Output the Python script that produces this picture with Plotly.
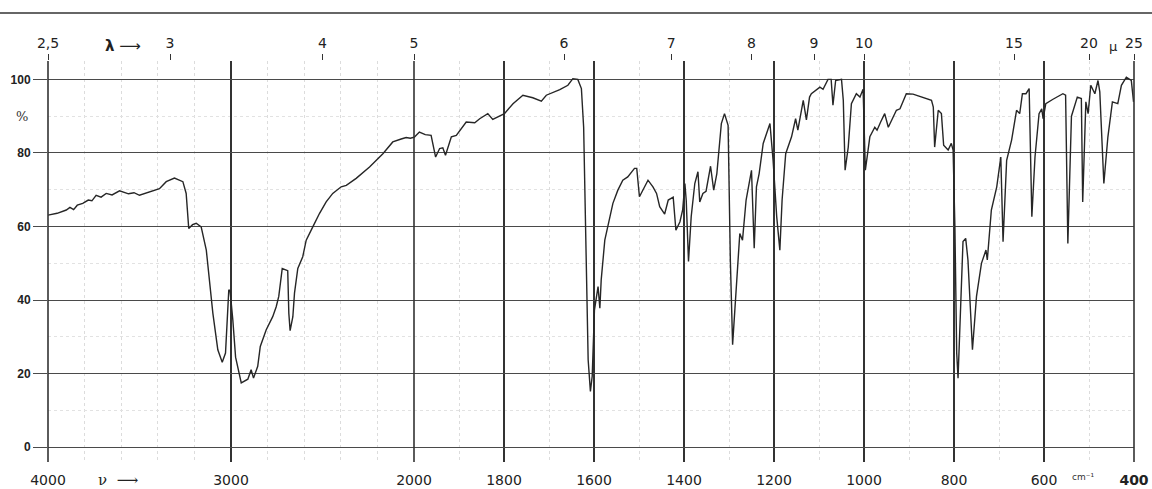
import plotly.graph_objects as go
import numpy as np

# ---- data (wavenumber in cm-1, transmittance in %) ----
wavenumber = [
    4000, 3950, 3900, 3880, 3860, 3840, 3810, 3780, 3760, 3737, 3710, 3682, 3650, 3609,
    3560, 3530, 3500, 3450, 3420, 3391, 3354, 3309, 3263, 3245, 3231, 3210, 3190, 3163,
    3135, 3099, 3072, 3048, 3030, 3012, 3005, 2990, 2975, 2950, 2944, 2908, 2890, 2877,
    2854, 2840, 2808, 2772, 2753, 2739, 2720, 2690, 2684, 2677, 2662, 2653, 2635, 2608,
    2589, 2553, 2516, 2480, 2444, 2398, 2370, 2316, 2243, 2170, 2116, 2070, 2043, 2020,
    1999, 1988, 1975, 1962, 1952, 1943, 1936, 1930, 1917, 1906, 1884, 1865, 1854, 1836,
    1825, 1799, 1780, 1758, 1736, 1717, 1706, 1676, 1658, 1647, 1636, 1628, 1623, 1617,
    1613, 1608, 1604, 1599, 1591, 1587, 1584, 1576, 1569, 1558, 1547, 1536, 1525, 1510,
    1505, 1499, 1480, 1469, 1461, 1454, 1443, 1435, 1424, 1418, 1409, 1403, 1398, 1395,
    1390, 1384, 1376, 1369, 1365, 1358, 1351, 1341, 1334, 1327, 1317, 1310, 1302, 1297,
    1292, 1285, 1276, 1270, 1262, 1250, 1244, 1239, 1233, 1224, 1209, 1202, 1194, 1187,
    1182, 1174, 1161, 1152, 1147, 1135, 1128, 1121, 1117, 1098, 1091, 1080, 1073, 1069,
    1063, 1050, 1046, 1042, 1035, 1028, 1017, 1009, 1002, 997, 987, 976, 971, 963,
    954, 946, 928, 920, 906, 891, 869, 850, 846, 843, 835, 828, 823, 813,
    806, 802, 798, 794, 791, 785, 780, 774, 769, 759, 750, 739, 729, 726,
    717, 705, 696, 691, 683, 672, 661, 654, 648, 640, 633, 627, 620, 611,
    605, 602, 596, 580, 558, 552, 547, 539, 526, 517, 514, 507, 502, 496,
    487, 480, 476, 467, 458, 448, 436, 428, 417, 406, 401,
]
transmittance = [
    63.1, 63.6, 64.5, 65.2, 64.6, 65.8, 66.3, 67.2, 67.0, 68.5, 68.0, 69.0, 68.6, 69.7,
    68.9, 69.2, 68.5, 69.3, 69.8, 70.3, 72.2, 73.2, 72.2, 69.0, 59.5, 60.5, 60.9, 59.9,
    53.6, 36.4, 26.5, 23.1, 25.6, 42.8, 42.5, 34.6, 24.5, 18.5, 17.5, 18.5, 21.1, 18.8,
    22.0, 27.4, 31.9, 35.5, 38.2, 41.0, 48.6, 48.0, 36.4, 31.7, 35.5, 41.9, 48.6, 51.8,
    56.3, 59.9, 63.6, 66.7, 69.0, 70.8, 71.2, 73.1, 76.2, 79.8, 83.0, 83.8, 84.2, 84.0,
    84.3, 85.7, 85.0, 84.8, 78.9, 81.2, 81.4, 79.4, 84.4, 84.8, 88.4, 88.2, 89.3, 90.7,
    89.1, 90.7, 93.4, 95.7, 95.0, 94.1, 95.7, 97.2, 98.4, 100.2, 100.0, 97.5, 87.0, 50.9,
    23.8, 15.2, 19.3, 37.3, 43.7, 37.8, 45.5, 56.3, 59.9, 66.3, 69.9, 72.6, 73.5, 75.8,
    75.8, 68.1, 72.6, 70.8, 69.0, 65.4, 63.4, 67.2, 68.0, 59.0, 61.3, 64.5, 71.7, 67.0,
    50.5, 62.7, 71.7, 74.9, 66.7, 69.0, 69.6, 76.4, 69.9, 74.4, 88.0, 90.7, 87.5, 50.9,
    27.9, 41.9, 58.1, 56.3, 67.2, 75.3, 54.1, 70.8, 74.4, 82.6, 88.0, 78.0, 62.7, 53.6,
    67.2, 79.8, 84.4, 89.3, 86.2, 94.3, 89.0, 95.2, 96.1, 97.9, 97.3, 100.0, 100.0, 93.0,
    99.7, 100.0, 94.3, 75.3, 81.6, 93.4, 96.1, 95.2, 97.3, 75.3, 84.4, 87.0, 86.2, 88.4,
    90.7, 87.0, 91.6, 92.0, 96.1, 96.0, 95.2, 94.3, 92.5, 81.6, 91.6, 90.7, 82.1, 80.8,
    82.6, 80.8, 59.9, 25.6, 18.8, 41.9, 55.9, 56.8, 50.9, 26.5, 41.0, 50.0, 53.6, 50.9,
    64.5, 70.8, 78.9, 55.9, 78.0, 83.5, 91.6, 90.7, 96.1, 96.1, 97.5, 62.7, 78.9, 90.7,
    92.0, 89.3, 93.4, 94.6, 96.1, 95.7, 55.4, 90.0, 95.2, 94.8, 66.7, 93.9, 90.7, 98.4,
    96.1, 99.7, 96.6, 71.7, 84.4, 93.9, 93.4, 98.4, 100.6, 99.7, 93.9,
]

# ---- axis tick data ----
wn_ticks_left = [4000, 3000, 2000]
wn_text_left = ["4000", "3000", "2000"]
wn_ticks_right = [2000, 1800, 1600, 1400, 1200, 1000, 800, 600, 400]
wn_text_right = ["", "1800", "1600", "1400", "1200", "1000", "800", "600", "<b>400</b>"]
wn_minor_left = [3800, 3600, 3400, 3200, 2800, 2600, 2400, 2200]
wn_minor_right = [1900, 1700, 1500, 1300, 1100, 900, 700, 500]
lambda_left = [2.5, 3, 4, 5]
lambda_text_left = ["2,5", "3", "4", "5"]
lambda_right = [6, 7, 8, 9, 10, 15, 20, 25]
lambda_text_right = ["6", "7", "8", "9", "10", "15", "20", "25"]
percent_ticks = [0, 20, 40, 60, 80, 100]
percent_text = ["<b>0</b>", "<b>20</b>", "<b>40</b>", "<b>60</b>", "<b>80</b>", "<b>100</b>"]
percent_minor = [10, 30, 50, 70, 90]

wn = np.array(wavenumber, dtype=float)
tr = np.array(transmittance, dtype=float)
left = wn >= 1950
right = wn <= 2050

W, H = 1152, 489
ML, MR, MT, MB = 48, 18, 61, 27
PW = W - ML - MR
PH = H - MT - MB
split = 366 / PW
Y_LO, Y_HI = -4, 105

def px_x(p):
    return (p - ML) / PW

def px_y(p):
    return (H - MB - p) / PH

line_col = "#262626"
grid_col = "#333333"
hgrid_col = "#4a4a4a"
font_num = "DejaVu Sans"

fig = go.Figure()
fig.add_trace(go.Scatter(x=wn[left], y=tr[left], xaxis="x", yaxis="y", mode="lines",
                         line=dict(color=line_col, width=1.4), showlegend=False, hoverinfo="skip"))
fig.add_trace(go.Scatter(x=wn[right], y=tr[right], xaxis="x2", yaxis="y", mode="lines",
                         line=dict(color=line_col, width=1.4), showlegend=False, hoverinfo="skip"))
# invisible carriers so the wavelength (top) axes are drawn
fig.add_trace(go.Scatter(x=[4000, 2000], y=[None, None], xaxis="x3", yaxis="y", mode="lines",
                         showlegend=False, hoverinfo="skip"))
fig.add_trace(go.Scatter(x=[2000, 400], y=[None, None], xaxis="x4", yaxis="y", mode="lines",
                         showlegend=False, hoverinfo="skip"))

common_x = dict(showgrid=True, gridcolor=grid_col, gridwidth=1.5, zeroline=False, showline=False,
                ticks="outside", ticklen=5, tickcolor="rgba(0,0,0,0)", automargin=False,
                tickfont=dict(family=font_num, size=14, color="#222"))
top_x = dict(side="top", anchor="y", ticks="outside", ticklen=6, tickcolor="#333", tickwidth=1.3,
             showgrid=False, zeroline=False, automargin=False,
             tickfont=dict(family=font_num, size=14, color="#222"))

fig.update_layout(
    width=W, height=H,
    margin=dict(l=ML, r=MR, t=MT, b=MB),
    paper_bgcolor="white", plot_bgcolor="white",
    xaxis=dict(domain=[0, split], range=[4000, 2000], tickvals=wn_ticks_left, ticktext=wn_text_left,
               anchor="y",
               minor=dict(tickvals=wn_minor_left, showgrid=True, gridcolor="#dcdcdc", griddash="dot", gridwidth=1),
               **common_x),
    xaxis2=dict(domain=[split, 1], range=[2000, 400], tickvals=wn_ticks_right, ticktext=wn_text_right,
                anchor="y",
                minor=dict(tickvals=wn_minor_right, showgrid=True, gridcolor="#dcdcdc", griddash="dot", gridwidth=1),
                **common_x),
    xaxis3=dict(overlaying="x", range=[4000, 2000],
                tickvals=[10000 / l for l in lambda_left], ticktext=lambda_text_left, **top_x),
    xaxis4=dict(overlaying="x2", range=[2000, 400],
                tickvals=[10000 / l for l in lambda_right], ticktext=lambda_text_right, **top_x),
    yaxis=dict(range=[Y_LO, Y_HI], tickvals=percent_ticks, ticktext=percent_text, anchor="x",
               showgrid=True, gridcolor=hgrid_col, gridwidth=1.3, zeroline=False, showline=False,
               ticks="outside", ticklen=14, tickcolor=hgrid_col, tickwidth=1.3, automargin=False,
               tickfont=dict(family="Liberation Sans", size=12, color="#222"),
               minor=dict(tickvals=percent_minor, showgrid=True, gridcolor="#e2e2e2", griddash="dot", gridwidth=1)),
)

# frame lines of the chart paper (left edge, scale change, right edge)
for xp in [0, split, 1]:
    fig.add_shape(type="line", xref="paper", yref="paper", x0=xp, x1=xp, y0=0, y1=1,
                  line=dict(color=grid_col, width=1.6), layer="above")

# top paper edge line
fig.add_shape(type="line", xref="paper", yref="paper", x0=px_x(0), x1=px_x(W), y0=px_y(13), y1=px_y(13),
              line=dict(color="#666", width=2))

ann = [
    dict(text="%", x=px_x(22), y=px_y(116), font=dict(family="DejaVu Serif", size=13, color="#333")),
    dict(text="<b>λ</b> ⟶", x=px_x(123), y=px_y(46), font=dict(family="DejaVu Sans", size=15, color="#222")),
    dict(text="ν  ⟶", x=px_x(118), y=px_y(480), font=dict(family="DejaVu Serif", size=15, color="#222")),
    dict(text="μ", x=px_x(1113), y=px_y(47), font=dict(family="DejaVu Sans", size=13, color="#222")),
    dict(text="cm⁻¹", x=px_x(1083), y=px_y(477), font=dict(family="DejaVu Sans", size=9, color="#333")),
]
for a in ann:
    fig.add_annotation(xref="paper", yref="paper", showarrow=False, xanchor="center", yanchor="middle", **a)

fig.write_html("out.html", config={"displayModeBar": False},
               post_script="document.body.style.margin='0px';document.body.style.overflow='hidden';")
